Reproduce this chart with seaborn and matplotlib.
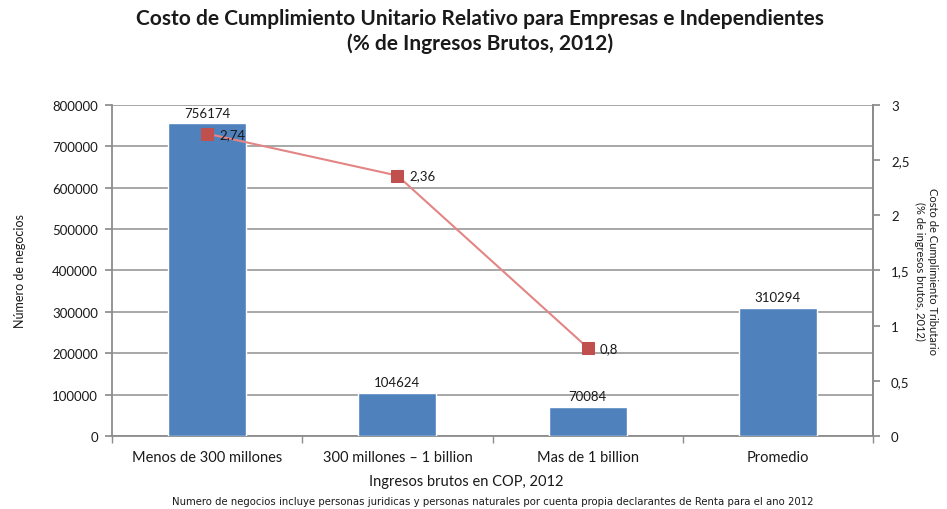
import matplotlib
matplotlib.use("Agg")
import matplotlib.pyplot as plt
import seaborn as sns
import pandas as pd
from matplotlib.ticker import FuncFormatter, MultipleLocator

categories = ["Menos de 300 millones", "300 millones \u2013 1 billion",
              "Mas de 1 billion", "Promedio"]
negocios = [756174, 104624, 70084, 310294]
costo_labels = ["2,74", "2,36", "0,8"]
costo = [2.74, 2.36, 0.8]

sns.set_theme(style="white")
plt.rcParams["font.family"] = ["Lato", "DejaVu Sans"]
TXT = "#1a1a1a"

fig = plt.figure(figsize=(9.47, 5.10), dpi=100)
ax = fig.add_axes([0.1183, 0.1431, 0.8036, 0.6491])

df = pd.DataFrame({"cat": categories, "n": negocios})
sns.barplot(data=df, x="cat", y="n", color="#4F81BD", saturation=1,
            width=0.41, ax=ax, zorder=3)

ax.set_ylim(0, 800000)
ax.yaxis.set_major_locator(MultipleLocator(100000))
ax.set_xlim(-0.5, len(categories) - 0.5)
ax.grid(axis="y", color="#A0A0A0", linewidth=1.3, zorder=0)
ax.set_axisbelow(True)

for i, v in enumerate(negocios):
    ax.text(i, v + 11000, str(v), ha="center", va="bottom", fontsize=9.5,
            color=TXT)

ax.spines["top"].set_visible(False)
for s in ["left", "right", "bottom"]:
    ax.spines[s].set_color("#8C8C8C")
    ax.spines[s].set_linewidth(1.3)

ax.tick_params(axis="y", direction="out", length=5, color="#8C8C8C",
               labelsize=9.5, labelcolor=TXT, left=True, pad=5)
ax.set_xticks(range(len(categories)))
ax.set_xticklabels(categories, fontsize=10.5, color=TXT)
ax.tick_params(axis="x", length=0, pad=10)
ax.set_xticks([i + 0.5 for i in range(-1, len(categories))], minor=True)
ax.tick_params(axis="x", which="minor", direction="out", length=5,
               color="#8C8C8C", bottom=True)
ax.set_xlabel("Ingresos brutos en COP, 2012", fontsize=10.5, color=TXT)
ax.xaxis.set_label_coords(0.466, -0.115)
ax.set_ylabel("N\u00famero de negocios", fontsize=9, color=TXT)
ax.yaxis.set_label_coords(-0.113, 0.5)

ax2 = ax.twinx()
sns.lineplot(x=list(range(len(costo))), y=costo, ax=ax2, color="#E38585",
             linewidth=1.5, marker="s", markersize=8, markerfacecolor="#C0504D",
             markeredgecolor="#C0504D", zorder=5)
ax2.set_ylim(0, 3)
ax2.yaxis.set_major_locator(MultipleLocator(0.5))
ax2.yaxis.set_major_formatter(FuncFormatter(
    lambda v, p: ("%g" % v).replace(".", ",")))
ax2.tick_params(axis="y", direction="out", length=5, color="#8C8C8C",
                labelsize=9.5, labelcolor=TXT, right=True, pad=8)
for s in ["top", "left", "bottom"]:
    ax2.spines[s].set_visible(False)
ax2.spines["right"].set_color("#8C8C8C")
ax2.spines["right"].set_linewidth(1.3)
ax2.grid(False)
for i, (v, lab) in enumerate(zip(costo, costo_labels)):
    ax2.text(i + 0.065, v, lab, ha="left", va="center", fontsize=9.5,
             color=TXT, zorder=6)
ax2.set_ylabel("Costo de Cumplimiento Tributario\n(% de ingresos brutos, 2012)",
               fontsize=8, color=TXT, rotation=270, linespacing=1.25,
               va="center")
ax2.yaxis.set_label_coords(1.07, 0.5)

fig.text(0.507, 0.962, "Costo de Cumplimiento Unitario Relativo para Empresas e Independientes",
         ha="center", va="center", fontsize=15, fontweight="bold", color=TXT)
fig.text(0.507, 0.915, "(% de Ingresos Brutos, 2012)",
         ha="center", va="center", fontsize=15, fontweight="bold", color=TXT)
fig.text(0.52, 0.016,
         "Numero de negocios incluye personas juridicas y personas naturales por cuenta propia declarantes de Renta para el ano 2012",
         ha="center", va="center", fontsize=7.3, color=TXT,
         family=["DejaVu Sans"])

fig.savefig("out.png", dpi=100, facecolor="white")
